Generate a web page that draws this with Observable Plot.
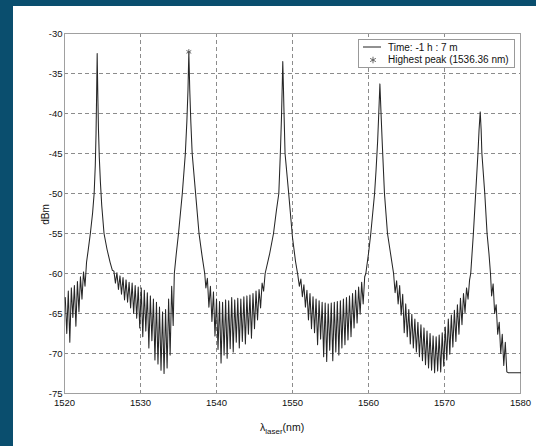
<!DOCTYPE html>
<html>
<head>
<meta charset="utf-8">
<script src="https://cdn.jsdelivr.net/npm/d3@7"></script>
<script src="https://cdn.jsdelivr.net/npm/@observablehq/plot@0.6"></script>
<style>
  html, body { margin: 0; padding: 0; }
  body { width: 536px; height: 446px; background: #0a4e6e; overflow: hidden; font-family: "Liberation Sans", Arial, sans-serif; }
  #panel { position: absolute; left: 13px; top: 6px; width: 523px; height: 440px; background: #fff; }
  #panel svg.plot { position: absolute; left: 0; top: 0; }
  #xlabel { position: absolute; left: 247px; top: 415px; font-size: 10.5px; color: #111; white-space: nowrap; }
  #xlabel sub { font-size: 8px; vertical-align: -3px; }
  #ylabel { position: absolute; left: 22px; top: 203px; font-size: 10px; color: #111; transform: rotate(-90deg); transform-origin: center; white-space: nowrap; }
</style>
</head>
<body>
<div id="panel"></div>
<script>
// ---- data ----
const xTicks = [1520, 1530, 1540, 1550, 1560, 1570, 1580];
const yTicks = [-30, -35, -40, -45, -50, -55, -60, -65, -70, -75];
const legendLabels = ["Time: -1 h : 7 m", "Highest peak (1536.36 nm)"];
const xLabelMain = "λ", xLabelSub = "laser", xLabelUnit = "(nm)";
const yLabel = "dBm";
const highestPeakNm = [1536.36];
const highestPeakDbm = [-32.3];

// trace as [wavelength nm, power dBm]
const edgeLeft = [[1520.1,-63.0],[1520.3,-67.5],[1520.5,-62.2],[1520.7,-68.6],[1520.9,-61.8],[1521.1,-65.5],[1521.3,-61.5],[1521.5,-66.6],[1521.7,-61.0],[1521.9,-64.8],[1522.1,-60.4],[1522.3,-63.2],[1522.5,-59.8],[1522.7,-61.6]];
const peak1 = [[1522.9,-58.6],[1523.1,-57.2],[1523.4,-55],[1523.7,-52.4],[1523.9,-50],[1524.05,-46.5],[1524.15,-42.5],[1524.22,-38],[1524.3,-32.5],[1524.38,-37.5],[1524.47,-42],[1524.58,-45.5],[1524.72,-48.5],[1524.9,-51.5],[1525.2,-55],[1525.6,-57],[1526.0,-58.6],[1526.3,-59.6]];
const valley12 = [[1526.5,-59.7],[1526.7,-61.2],[1526.9,-59.9],[1527.1,-62.0],[1527.3,-60.3],[1527.5,-62.6],[1527.7,-60.5],[1527.9,-63.3],[1528.1,-60.8],[1528.3,-63.6],[1528.5,-61.1],[1528.7,-64.3],[1528.9,-61.2],[1529.1,-65.0],[1529.3,-61.5],[1529.5,-65.6],[1529.7,-61.7],[1529.9,-66.8],[1530.1,-61.8],[1530.3,-67.9],[1530.5,-62.1],[1530.7,-67.2],[1530.9,-62.4],[1531.1,-69.3],[1531.3,-62.8],[1531.5,-68.4],[1531.7,-63.2],[1531.9,-70.8],[1532.1,-63.6],[1532.3,-71.3],[1532.5,-64.2],[1532.7,-72.1],[1532.9,-64.8],[1533.1,-72.5],[1533.3,-64.5],[1533.5,-71.8],[1533.7,-63.2],[1533.9,-70.2],[1534.1,-61.6],[1534.3,-66.5]];
const peak2 = [[1534.45,-60],[1534.7,-57.6],[1535.0,-55],[1535.25,-52.5],[1535.5,-50],[1535.9,-45],[1536.1,-41],[1536.25,-37],[1536.36,-32.3],[1536.48,-37],[1536.62,-41],[1536.8,-45],[1537.25,-50],[1537.7,-55],[1538.1,-57.8],[1538.45,-60]];
const valley23 = [[1538.6,-61.8],[1538.8,-60.6],[1539.0,-64.2],[1539.2,-61.6],[1539.4,-66.0],[1539.6,-62.3],[1539.8,-67.8],[1540.0,-63.2],[1540.2,-69.5],[1540.4,-63.5],[1540.6,-71.2],[1540.8,-63.6],[1541.0,-70.2],[1541.2,-63.3],[1541.4,-70.6],[1541.6,-63.4],[1541.8,-69.4],[1542.0,-63.0],[1542.2,-69.8],[1542.4,-63.3],[1542.6,-68.6],[1542.8,-63.1],[1543.0,-69.3],[1543.2,-63.2],[1543.4,-68.5],[1543.6,-62.9],[1543.8,-68.8],[1544.0,-62.8],[1544.2,-67.6],[1544.4,-62.7],[1544.6,-68.1],[1544.8,-62.5],[1545.0,-66.9],[1545.2,-62.2],[1545.4,-65.8],[1545.6,-62.0],[1545.8,-64.3],[1546.0,-61.2],[1546.2,-62.2]];
const peak3 = [[1546.4,-60],[1547.0,-57.5],[1547.5,-55],[1547.9,-52],[1548.2,-50],[1548.4,-45],[1548.55,-40.5],[1548.65,-36.5],[1548.72,-33.5],[1548.8,-36.5],[1548.9,-40.5],[1549.02,-45],[1549.5,-50],[1550.0,-55.5],[1550.4,-58.5],[1550.7,-60.2]];
const valley34 = [[1550.9,-61.6],[1551.1,-60.7],[1551.3,-62.9],[1551.5,-61.4],[1551.7,-64.2],[1551.9,-62.1],[1552.1,-65.8],[1552.3,-62.5],[1552.5,-66.9],[1552.7,-62.9],[1552.9,-67.4],[1553.1,-63.2],[1553.3,-68.9],[1553.5,-63.4],[1553.7,-68.2],[1553.9,-63.6],[1554.1,-70.4],[1554.3,-63.7],[1554.5,-71.0],[1554.7,-63.8],[1554.9,-69.6],[1555.1,-63.7],[1555.3,-70.9],[1555.5,-63.6],[1555.7,-69.8],[1555.9,-63.5],[1556.1,-70.2],[1556.3,-63.4],[1556.5,-69.3],[1556.7,-63.2],[1556.9,-68.9],[1557.1,-63.0],[1557.3,-68.3],[1557.5,-62.8],[1557.7,-67.9],[1557.9,-62.5],[1558.1,-66.8],[1558.3,-62.1],[1558.5,-66.2],[1558.7,-61.7],[1558.9,-65.1],[1559.1,-61.1],[1559.3,-63.8],[1559.5,-60.4]];
const peak4 = [[1559.65,-60],[1560.0,-57.5],[1560.3,-55],[1560.8,-50],[1561.0,-47],[1561.2,-43.5],[1561.35,-40],[1561.5,-36.3],[1561.65,-40],[1561.8,-43.5],[1562.1,-50],[1562.5,-55],[1562.9,-57.5],[1563.3,-60]];
const valley45 = [[1563.5,-62.4],[1563.7,-60.9],[1563.9,-63.8],[1564.1,-61.5],[1564.3,-65.2],[1564.5,-62.6],[1564.7,-67.4],[1564.9,-63.8],[1565.1,-67.9],[1565.3,-64.5],[1565.5,-68.8],[1565.7,-65.1],[1565.9,-69.3],[1566.1,-65.7],[1566.3,-69.8],[1566.5,-66.1],[1566.7,-70.4],[1566.9,-66.4],[1567.1,-70.9],[1567.3,-66.8],[1567.5,-71.4],[1567.7,-67.2],[1567.9,-71.8],[1568.1,-67.5],[1568.3,-72.1],[1568.5,-67.8],[1568.7,-72.4],[1568.9,-67.9],[1569.1,-72.2],[1569.3,-67.7],[1569.5,-72.3],[1569.7,-67.4],[1569.9,-71.6],[1570.1,-66.7],[1570.3,-70.8],[1570.5,-65.7],[1570.7,-70.1],[1570.9,-65.2],[1571.1,-69.2],[1571.3,-64.6],[1571.5,-68.5],[1571.7,-63.9],[1571.9,-67.6],[1572.1,-63.1],[1572.3,-66.4],[1572.5,-62.5],[1572.7,-64.9],[1572.9,-61.8],[1573.1,-63.2],[1573.3,-60.8]];
const peak5 = [[1573.45,-60],[1573.8,-55],[1574.1,-50],[1574.4,-45],[1574.55,-42],[1574.7,-39.8],[1574.82,-42],[1574.92,-45],[1575.3,-50],[1575.6,-55],[1575.85,-57.5],[1576.05,-60]];
const edgeRight = [[1576.2,-62.8],[1576.4,-61.3],[1576.6,-65.0],[1576.8,-63.9],[1577.0,-67.6],[1577.2,-66.1],[1577.4,-70.0],[1577.6,-67.6],[1577.8,-71.5],[1578.0,-68.6],[1578.2,-72.3],[1578.4,-72.4],[1579.0,-72.4],[1580.0,-72.4]];

const trace = [...edgeLeft, ...peak1, ...valley12, ...peak2, ...valley23, ...peak3, ...valley34, ...peak4, ...valley45, ...peak5, ...edgeRight]
  .map(([nm, dbm]) => ({nm, dbm}));
const peakPts = highestPeakNm.map((nm, i) => ({nm, dbm: highestPeakDbm[i]}));
const xGrid = xTicks.slice(1, -1);
const yGrid = yTicks.slice(1, -1);

const chart = Plot.plot({
  width: 523,
  height: 440,
  marginLeft: 51,
  marginRight: 16,
  marginTop: 27,
  marginBottom: 53,
  x: {domain: [1520, 1580]},
  y: {domain: [-75, -30]},
  style: {fontFamily: "'Liberation Sans', Arial, sans-serif", fontSize: "9.5px", color: "#111", background: "white", overflow: "visible"},
  marks: [
    Plot.ruleX(xGrid, {stroke: "#8c8c8c", strokeWidth: 1, strokeDasharray: "4,3"}),
    Plot.ruleY(yGrid, {stroke: "#8c8c8c", strokeWidth: 1, strokeDasharray: "4,3"}),
    Plot.frame({stroke: "#a0a0a0", strokeWidth: 1}),
    Plot.line(trace, {x: "nm", y: "dbm", stroke: "#262626", strokeWidth: 1.05}),
    Plot.dot(peakPts, {x: "nm", y: "dbm", symbol: "asterisk", r: 2.6, stroke: "#555", strokeWidth: 0.9}),
    Plot.axisX({ticks: xTicks, tickSize: 0, tickPadding: 6, label: null, tickFormat: d => String(d)}),
    Plot.axisY({ticks: yTicks, tickSize: 0, tickPadding: 2, label: null, tickFormat: d => String(d)})
  ]
});
chart.classList.add("plot");
const panel = document.getElementById("panel");
panel.appendChild(chart);

// axis labels
const xl = document.createElement("div");
xl.id = "xlabel";
xl.innerHTML = `${xLabelMain}<sub>${xLabelSub}</sub>${xLabelUnit}`;
panel.appendChild(xl);
const yl = document.createElement("div");
yl.id = "ylabel";
yl.textContent = yLabel;
panel.appendChild(yl);

// legend
const leg = d3.select(panel).append("svg")
  .attr("width", 158).attr("height", 30)
  .style("position", "absolute").style("left", "345px").style("top", "33px")
  .style("font-family", "'Liberation Sans', Arial, sans-serif").style("font-size", "10px");
leg.append("rect").attr("x", 0.5).attr("y", 0.5).attr("width", 156).attr("height", 28)
  .attr("fill", "white").attr("stroke", "#999");
leg.append("line").attr("x1", 5).attr("x2", 23).attr("y1", 8).attr("y2", 8).attr("stroke", "#222").attr("stroke-width", 1);
leg.append("path").attr("d", d3.symbol(d3.symbolAsterisk, 30)()).attr("transform", "translate(15,21)")
  .attr("stroke", "#555").attr("stroke-width", 0.9).attr("fill", "none");
leg.selectAll("text.l").data(legendLabels).join("text")
  .attr("x", 30).attr("y", (d, i) => 12 + i * 11.5).attr("fill", "#111").text(d => d);
</script>
</body>
</html>
